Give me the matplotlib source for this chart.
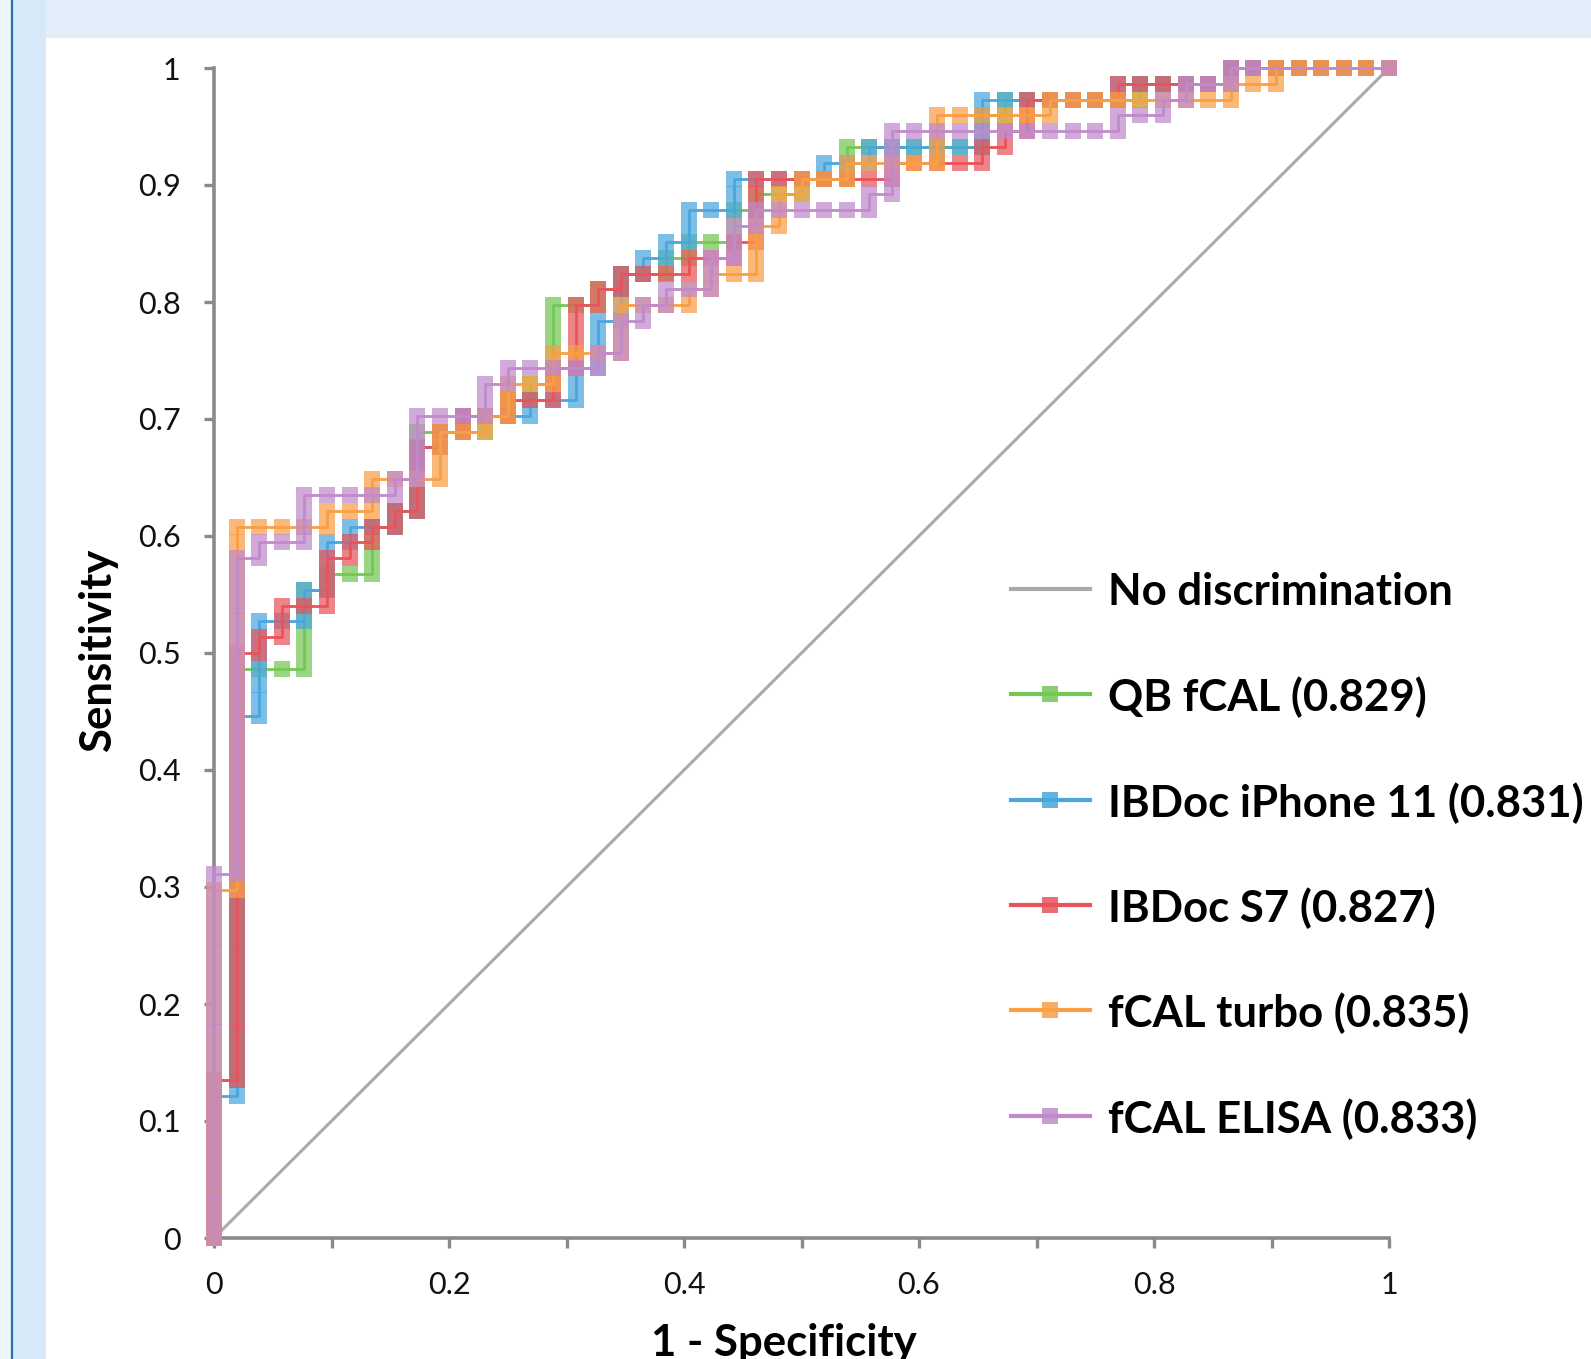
import numpy as np
import matplotlib
matplotlib.use('Agg')
from matplotlib import pyplot as plt
from matplotlib.lines import Line2D
from matplotlib.patches import Rectangle

# ROC curves, as counts:
# 52 negatives (x steps) and 74 positives (y steps)
n_neg = 52
n_pos = 74

# number of true positives reached at each false-positive count 0..52
# (None = tied threshold, no point of its own at that column)
qb_fcal = [10, 36, 36, 36, 41, 42, 42, 45, 46, 51, 51, 51, 52, 53, 54, 59, 59, 60, 61, 61,
           62, 63, 63, 65, 66, 66, 67, 67, 69, 69, 69, 69, 69, 69, 71, 72, 72, 72, 72, 72,
           72, 73, 73, 73, 73, 74, 74, 74, 74, 74, 74, 74, 74]
ibdoc_iphone = [9, 33, 39, 39, 41, 44, 45, 45, 46, 50, 51, 52, 52, 52, 53, 53, 55, 58, 61, 62,
                63, 65, 65, 67, 67, 67, 67, 68, 68, 69, 69, 69, 69, 69, 72, 72, 72, 72, 72, 72,
                73, 73, 73, 73, 73, 74, 74, 74, 74, 74, 74, 74, 74]
ibdoc_s7 = [10, 37, 38, 40, 40, 43, 44, 45, 46, 50, 51, 52, 52, 53, 53, 55, 59, 60, 61, 61,
            61, 62, 62, 63, 67, 67, 67, 67, 67, 67, 68, 68, 68, 68, 69, 70, 72, 72, 72, 72,
            73, 73, 73, 73, 73, 74, 74, 74, 74, 74, 74, 74, 74]
fcal_turbo = [22, 45, 45, 45, 45, 46, 46, 48, 48, 48, 51, 51, 52, 54, 54, 56, 56, 56, 59, 59,
              59, 60, 61, 61, 64, 66, 67, 67, 68, 68, 68, 68, 71, 71, 71, 71, 71, 72, 72, 72,
              72, 72, 72, 72, 72, 73, 73, 74, 74, 74, 74, 74, 74]
fcal_elisa = [23, 43, 44, 44, 47, 47, 47, 47, 48, 52, 52, 52, 54, 55, 55, 55, 55, 56, 58, 59,
              60, 60, 62, 64, 65, 65, 65, 65, 65, 66, 70, 70, 70, 70, 70, 70, 70, 70, 70, 70,
              71, 71, 72, 73, 73, 74, 74, None, None, None, None, None, 74]

labels = ['QB fCAL (0.829)', 'IBDoc iPhone 11 (0.831)', 'IBDoc S7 (0.827)',
          'fCAL turbo (0.835)', 'fCAL ELISA (0.833)']
series = [qb_fcal, ibdoc_iphone, ibdoc_s7, fcal_turbo, fcal_elisa]
colors = ['#74c655', '#4aa6dd', '#e8545a', '#f99f45', '#c08acb']

tick_vals = [0, 0.1, 0.2, 0.3, 0.4, 0.5, 0.6, 0.7, 0.8, 0.9, 1]
y_tick_labels = ['0', '0.1', '0.2', '0.3', '0.4', '0.5', '0.6', '0.7', '0.8', '0.9', '1']
x_tick_labels = ['0', '0.2', '0.4', '0.6', '0.8', '1']

W, H = 1591, 1359
FONT = 'Lato'
axis_gray = '#8a8a8a'


def roc_points(levels):
    # one point per sample: step up along a column, then one step right
    xs, ys = [0], [0]
    prev = 0
    for k, lev in enumerate(levels):
        if lev is None:
            continue
        if k > 0:
            xs.append(k)
            ys.append(prev)
        for t in range(prev + 1, lev + 1):
            xs.append(k)
            ys.append(t)
        prev = lev
    return np.array(xs) / n_neg, np.array(ys) / n_pos


def fx(x):
    return x / W


def fy(y):
    return 1 - y / H


fig = plt.figure(figsize=(W / 100, H / 100), dpi=100)
fig.patch.set_facecolor('#e2effa')
# white slide area and the blue strip on the left
fig.add_artist(Rectangle((fx(46), 0), 1 - fx(46), fy(38), transform=fig.transFigure,
                         facecolor='white', edgecolor='none', zorder=0))
fig.add_artist(Rectangle((0, 0), fx(12), 1, transform=fig.transFigure,
                         facecolor='#eef6fd', edgecolor='none', zorder=0))
fig.add_artist(Rectangle((fx(13), 0), fx(33), 1, transform=fig.transFigure,
                         facecolor='#d7e9f8', edgecolor='none', zorder=0))
fig.add_artist(Line2D([fx(12), fx(12)], [0, 1], transform=fig.transFigure,
                      color='#2d6cb3', lw=1.6, zorder=1))

ax = fig.add_axes([fx(214), fy(1238), 1175 / W, 1170 / H])
ax.set_facecolor('none')

ax.plot([0, 1], [0, 1], color='#aaaaaa', lw=2.2, zorder=2)
for i, (lev, c) in enumerate(zip(series, colors)):
    x, y = roc_points(lev)
    ax.plot(x, y, color=c, lw=2.0, zorder=3 + i, clip_on=False)
    ax.plot(x, y, ls='none', marker='s', markersize=11.5, markeredgewidth=0,
            color=c, alpha=0.72, zorder=3 + i, clip_on=False)

ax.set_xlim(0, 1)
ax.set_ylim(0, 1)
for s in ['top', 'right']:
    ax.spines[s].set_visible(False)
for s in ['left', 'bottom']:
    ax.spines[s].set_color(axis_gray)
    ax.spines[s].set_linewidth(2.6)
    ax.spines[s].set_zorder(1)

ax.set_yticks(tick_vals)
ax.set_yticklabels(y_tick_labels)
ax.set_xticks(tick_vals[::2])
ax.set_xticklabels(x_tick_labels)
ax.set_xticks(tick_vals[1::2], minor=True)
ax.tick_params(axis='both', which='both', color=axis_gray, width=2.4, length=7,
               labelsize=22, labelcolor='#111111')
ax.tick_params(axis='y', pad=17)
ax.tick_params(axis='x', pad=17)
for t in ax.get_xticklabels() + ax.get_yticklabels():
    t.set_fontfamily(FONT)

# axis titles
fig.text(fx(98), fy(650), 'Sensitivity', rotation=90, ha='center', va='center',
         fontsize=31.5, fontweight='bold', family=FONT)
fig.text(fx(784), fy(1356), '1 - Specificity', ha='center', va='baseline',
         fontsize=31.5, fontweight='bold', family=FONT)

# legend, drawn by hand to place it like the original
leg_y = [589, 694, 800, 905, 1010, 1116]
leg_labels = ['No discrimination'] + labels
leg_colors = ['#aaaaaa'] + colors
for j, (yy, lab, c) in enumerate(zip(leg_y, leg_labels, leg_colors)):
    fig.add_artist(Line2D([fx(1011), fx(1090)], [fy(yy), fy(yy)], transform=fig.transFigure,
                          color=c, lw=3))
    if j > 0:
        fig.add_artist(Line2D([fx(1050)], [fy(yy)], transform=fig.transFigure, ls='none',
                              marker='s', markersize=11, markeredgewidth=0, color=c, alpha=0.85))
    fig.text(fx(1108), fy(yy), lab, ha='left', va='center_baseline', fontsize=31.5,
             fontweight='bold', family=FONT)

fig.savefig('out.png', dpi=100, facecolor=fig.get_facecolor())
